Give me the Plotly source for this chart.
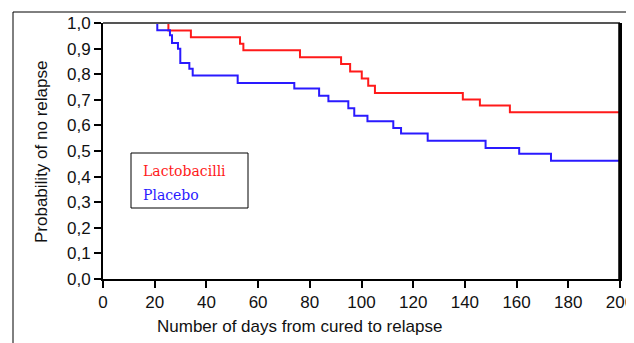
import plotly.graph_objects as go

# Kaplan-Meier step data
lacto_days = [0, 25.3, 34.0, 53.0, 54.3, 76.2, 92.1, 95.6, 100.1, 102.6, 105.2, 139.2, 145.8, 157.4, 200]
lacto_surv = [1.0, 0.971, 0.944, 0.919, 0.894, 0.866, 0.840, 0.811, 0.783, 0.755, 0.727, 0.701, 0.678, 0.651, 0.651]

placebo_days = [0, 21.0, 25.9, 26.7, 29.0, 29.9, 33.4, 34.7, 52.1, 74.0, 83.6, 87.2, 94.9, 97.2, 102.3,
                112.3, 115.3, 125.6, 148.0, 161.0, 173.3, 200]
placebo_surv = [1.0, 0.972, 0.952, 0.922, 0.899, 0.844, 0.821, 0.795, 0.766, 0.744, 0.716, 0.694, 0.667,
                0.638, 0.616, 0.590, 0.568, 0.540, 0.512, 0.489, 0.462, 0.462]

series_names = ["Lactobacilli", "Placebo"]
series_colors = ["#ff1a1a", "#2a1aff"]

x_ticks = [0, 20, 40, 60, 80, 100, 120, 140, 160, 180, 200]
y_ticks = [0.0, 0.1, 0.2, 0.3, 0.4, 0.5, 0.6, 0.7, 0.8, 0.9, 1.0]
y_tick_labels = ["0,0", "0,1", "0,2", "0,3", "0,4", "0,5", "0,6", "0,7", "0,8", "0,9", "1,0"]

x_title = "Number of days from cured to relapse"
y_title = "Probability of no relapse"

fig = go.Figure()
fig.add_trace(go.Scatter(x=lacto_days, y=lacto_surv, mode="lines", line_shape="hv",
                         line=dict(color=series_colors[0], width=2), name=series_names[0],
                         showlegend=False))
fig.add_trace(go.Scatter(x=placebo_days, y=placebo_surv, mode="lines", line_shape="hv",
                         line=dict(color=series_colors[1], width=2), name=series_names[1],
                         showlegend=False))

# page body has an 8px default margin; compensate so screen pixels match
OFF = 8
SCR_W, SCR_H = 634, 343
W, H = SCR_W - OFF, SCR_H - OFF
plot_left, plot_right, plot_top, plot_bottom = 103, 620, 23, 279  # screen pixels
L = plot_left - OFF
R = W - (plot_right - OFF)
T = plot_top - OFF
B = H - (plot_bottom - OFF)
pw, ph = W - L - R, H - T - B

def sx(px):
    return (px - plot_left) / pw

def sy(py):
    return (plot_bottom - py) / ph

axis_font = dict(family="Liberation Sans, Arial, sans-serif", size=17, color="#111")

fig.update_layout(
    width=W, height=H,
    margin=dict(l=L, r=R, t=T, b=B, autoexpand=False),
    plot_bgcolor="white", paper_bgcolor="white",
    xaxis=dict(range=[0, 200], tickvals=x_ticks, ticks="outside", ticklen=7, tickwidth=1.5,
               tickcolor="black", showline=True, linecolor="black", linewidth=2,
               showgrid=False, zeroline=False, tickfont=axis_font, automargin=False,
               ticklabeloverflow="allow"),
    yaxis=dict(range=[0, 1.0], tickvals=y_ticks, ticktext=y_tick_labels, ticks="outside",
               ticklen=7, tickwidth=1.5, tickcolor="black", showline=True, linecolor="black",
               linewidth=2, mirror=True, showgrid=False, zeroline=False, tickfont=axis_font,
               automargin=False),
    showlegend=False,
)

shapes = []
# top border of plot area (gray)
shapes.append(dict(type="line", xref="paper", yref="paper", x0=0, x1=1, y0=1, y1=1,
                   line=dict(color="#555", width=2)))
# right border of plot area
shapes.append(dict(type="line", xref="paper", yref="paper", x0=0.999, x1=0.999, y0=0, y1=1,
                   line=dict(color="black", width=2.5)))
# outer frame of the figure
shapes.append(dict(type="rect", xref="paper", yref="paper",
                   x0=sx(13), x1=sx(700), y0=sy(400), y1=sy(12),
                   line=dict(color="black", width=1), layer="below"))
# legend box
shapes.append(dict(type="rect", xref="paper", yref="paper",
                   x0=sx(131), x1=sx(248), y0=sy(208), y1=sy(153),
                   line=dict(color="black", width=1), fillcolor="white"))
fig.update_layout(shapes=shapes)

annotations = [
    dict(text=x_title, xref="paper", yref="paper", x=sx(299), y=sy(326),
         xanchor="center", yanchor="middle", showarrow=False, font=axis_font),
    dict(text=y_title, xref="paper", yref="paper", x=sx(41), y=sy(152),
         xanchor="center", yanchor="middle", showarrow=False, textangle=-90, font=axis_font),
    dict(text=series_names[0], xref="paper", yref="paper", x=sx(141), y=sy(171),
         xanchor="left", yanchor="middle", showarrow=False,
         font=dict(family="DejaVu Serif, serif", size=14, color=series_colors[0])),
    dict(text=series_names[1], xref="paper", yref="paper", x=sx(141), y=sy(195),
         xanchor="left", yanchor="middle", showarrow=False,
         font=dict(family="DejaVu Serif, serif", size=14, color=series_colors[1])),
]
fig.update_layout(annotations=annotations)

fig.write_html("out.html")
